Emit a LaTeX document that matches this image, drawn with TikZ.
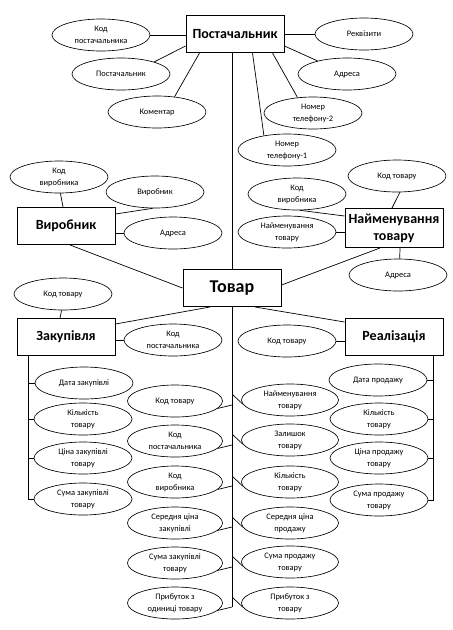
\documentclass[tikz,border=0pt]{standalone}
\usepackage{fontspec}
\setmainfont{Carlito}
\usetikzlibrary{shapes.geometric,calc}
\begin{document}
\begin{tikzpicture}[x=1pt,y=-1pt,
  attr/.style={ellipse,draw,line width=0.65pt,minimum width=98pt,minimum height=32pt,inner sep=0pt,align=center,font=\fontsize{8.4}{12}\selectfont},
  mattr/.style={attr,minimum width=95pt},
  ent/.style={rectangle,draw,line width=1pt,minimum width=98pt,minimum height=37pt,inner sep=1pt,align=center,font=\fontsize{14}{15}\selectfont\bfseries},
  conn/.style={line width=0.7pt}]
\useasboundingbox[fill=white] (0,0) rectangle (453,630);

% entities
\node[ent] (P) at (235,34) {Постачальник};
\node[ent] (T) at (232,288) {\fontsize{18}{19}\selectfont Товар};
\node[ent] (V) at (66,226) {Виробник};
\node[ent,minimum height=39pt,font=\fontsize{14}{17}\selectfont\bfseries] (N) at (394,228) {Найменування\\товару};
\node[ent] (Z) at (66,337) {Закупівля};
\node[ent] (R) at (394,337) {Реалізація};

% Постачальник attributes
\node[attr] (kp) at (101,35) {Код\\постачальника};
\node[attr] (pst) at (121,74) {Постачальник};
\node[attr] (kom) at (157,112) {Коментар};
\node[attr] (rek) at (364,34) {Реквізити};
\node[attr] (adr1) at (347,74) {Адреса};
\node[attr] (tel2) at (313,113) {Номер\\телефону-2};
\node[attr] (tel1) at (287,150) {Номер\\телефону-1};
\draw[conn] (kp.east) -- (kp.east -| P.west);
\draw[conn] (pst.20) -- ([yshift=7pt]P.south west);
\draw[conn] (kom.41) -- ([xshift=14pt]P.south west);
\draw[conn] (rek.west) -- (rek.west -| P.east);
\draw[conn] (adr1.156) -- ([yshift=7pt]P.south east);
\draw[conn] (tel2.135) -- ([xshift=-12pt]P.south east);
\draw[conn] (tel1.148) -- ([xshift=-32pt]P.south east);
\draw[conn] (T.north |- P.south) -- (T.north);

% Виробник attributes
\node[attr] (kv) at (59,177) {Код\\виробника};
\node[attr] (vr) at (155,192) {Виробник};
\node[attr] (adr2) at (173,233) {Адреса};
\draw[conn] (kv.-85) -- ([xshift=-3pt]V.north);
\draw[conn] (vr.262) -- ([yshift=-7pt]V.north east);
\draw[conn] (adr2.west) -- (adr2.west -| V.east);
\draw[conn] ([xshift=4pt]V.south) -- (T.west);

% Найменування товару attributes
\node[attr] (kt1) at (397,176) {Код товару};
\node[attr] (kv2) at (297,194) {Код\\виробника};
\node[attr] (nt) at (287,232) {Найменування\\товару};
\node[attr] (adr3) at (398,275) {Адреса};
\draw[conn] (kt1.-80) -- ([xshift=-2pt]N.north);
\draw[conn] (kv2.-80) -- ([yshift=-8pt]N.north west);
\draw[conn] (nt.east) -- (nt.east -| N.west);
\draw[conn] (adr3.84) -- ([xshift=6pt]N.south);
\draw[conn] ([xshift=-14pt]N.south) -- ([yshift=3pt]T.east);

% Закупівля
\node[attr] (kt2) at (63,294) {Код товару};
\node[attr] (kp2) at (173,340) {Код\\постачальника};
\draw[conn] (kt2.-95) -- ([xshift=-6pt]Z.north);
\draw[conn] (kp2.west) -- (kp2.west -| Z.east);
\draw[conn] ([yshift=-6pt]Z.north east) -- ([xshift=-22pt]T.south);

\node[attr] (dz) at (84,383) {Дата закупівлі};
\node[attr] (kz) at (83,419) {Кількість\\товару};
\node[attr] (cz) at (83,458) {Ціна закупівлі\\товару};
\node[attr] (sz) at (83,499) {Сума закупівлі\\товару};
\coordinate (zl) at ([xshift=12pt]Z.south west);
\draw[conn] (zl) -- (zl |- sz.west) -- (sz.west);
\draw[conn] (dz.west) -- (dz.west -| zl);
\draw[conn] (kz.west) -- (kz.west -| zl);
\draw[conn] (cz.west) -- (cz.west -| zl);

% Реалізація
\node[attr] (kt3) at (287,341) {Код товару};
\draw[conn] (kt3.east) -- (kt3.east -| R.west);
\draw[conn] ([xshift=23pt]T.south) -- ([yshift=-4pt]R.north west);

\node[attr] (dp) at (378,380) {Дата продажу};
\node[attr] (kpr) at (379,419) {Кількість\\товару};
\node[attr] (cp) at (379,458) {Ціна продажу\\товару};
\node[attr] (sp) at (379,500) {Сума продажу\\товару};
\coordinate (rl) at ([xshift=-10pt]R.south east);
\draw[conn] (rl) -- (rl |- sp.east) -- (sp.east);
\draw[conn] (dp.east) -- (dp.east -| rl);
\draw[conn] (kpr.east) -- (kpr.east -| rl);
\draw[conn] (cp.east) -- (cp.east -| rl);

% middle
\coordinate (mb) at (232,607);
\draw[conn] (T.south) -- (mb);
\node[mattr] (m1) at (175,401) {Код товару};
\node[mattr] (m2) at (175,441) {Код\\постачальника};
\node[mattr] (m3) at (175,482) {Код\\виробника};
\node[mattr] (m4) at (175,523) {Середня ціна\\закупівлі};
\node[mattr] (m5) at (175,563) {Сума закупівлі\\товару};
\node[mattr] (m6) at (175,603) {Прибуток з\\одиниці товару};
\foreach \m in {m1,m2,m3,m4,m5,m6}
  \draw[conn] (\m.-10) -- ([yshift=-4pt]\m.east -| T.south);

\node[mattr,minimum width=97pt] (n1) at (290,400) {Найменування\\товару};
\node[mattr,minimum width=97pt] (n2) at (290,440) {Залишок\\товару};
\node[mattr,minimum width=97pt] (n3) at (290,482) {Кількість\\товару};
\node[mattr,minimum width=97pt] (n4) at (290,523) {Середня ціна\\продажу};
\node[mattr,minimum width=97pt] (n5) at (290,562) {Сума продажу\\товару};
\node[mattr,minimum width=97pt] (n6) at (290,603) {Прибуток з\\товару};
\foreach \n in {n1,n2,n3,n4,n5,n6}
  \draw[conn] ([yshift=6pt]\n.west -| T.south) -- (\n.185);
\end{tikzpicture}
\end{document}
